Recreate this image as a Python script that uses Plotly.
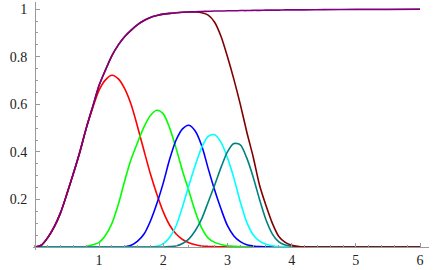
import plotly.graph_objects as go

# ---- data ----
x_grid = [0.0, 0.1, 0.2, 0.3, 0.4, 0.5, 0.6, 0.7, 0.8, 0.9,
          1.0, 1.1, 1.2, 1.3, 1.4, 1.5, 1.6, 1.7, 1.8, 1.9,
          2.0, 2.1, 2.2, 2.3, 2.4, 2.5, 2.6, 2.7, 2.8, 2.9,
          3.0, 3.1, 3.2, 3.3, 3.4, 3.5, 3.6, 3.7, 3.8, 3.9,
          4.0, 4.1, 4.2, 4.5, 5.0, 5.5, 6.0]

red = [0.0, 0.008, 0.04, 0.085, 0.145, 0.225, 0.31, 0.40, 0.50, 0.585,
       0.66, 0.703, 0.722, 0.707, 0.665, 0.598, 0.505, 0.405, 0.307, 0.222,
       0.148, 0.092, 0.055, 0.032, 0.018, 0.010, 0.005, 0.003, 0.002, 0.0015,
       0.001, 0.0, 0.0, 0.0, 0.0, 0.0, 0.0, 0.0, 0.0, 0.0,
       0.0, 0.0, 0.0, 0.0, 0.0, 0.0, 0.0]

green = [0.0, 0.0, 0.0, 0.0, 0.0, 0.0, 0.0, 0.0005, 0.003, 0.01,
         0.02, 0.05, 0.10, 0.18, 0.28, 0.37, 0.44, 0.505, 0.553, 0.575,
         0.56, 0.50, 0.415, 0.32, 0.235, 0.148, 0.08, 0.038, 0.02, 0.011,
         0.006, 0.004, 0.002, 0.001, 0.0, 0.0, 0.0, 0.0, 0.0, 0.0,
         0.0, 0.0, 0.0, 0.0, 0.0, 0.0, 0.0]

blue = [0.0, 0.0, 0.0, 0.0, 0.0, 0.0, 0.0, 0.0, 0.0, 0.0,
        0.0, 0.0, 0.0, 0.0, 0.002, 0.008, 0.025, 0.055, 0.11, 0.183,
        0.27, 0.37, 0.45, 0.497, 0.512, 0.487, 0.425, 0.33, 0.24, 0.16,
        0.09, 0.047, 0.023, 0.01, 0.005, 0.002, 0.001, 0.0, 0.0, 0.0,
        0.0, 0.0, 0.0, 0.0, 0.0, 0.0, 0.0]

cyan = [0.0, 0.0, 0.0, 0.0, 0.0, 0.0, 0.0, 0.0, 0.0, 0.0,
        0.0, 0.0, 0.0, 0.0, 0.0, 0.0, 0.0, 0.0, 0.001, 0.004,
        0.015, 0.042, 0.09, 0.17, 0.26, 0.345, 0.42, 0.465, 0.472, 0.44,
        0.375, 0.29, 0.19, 0.105, 0.052, 0.025, 0.012, 0.006, 0.003, 0.002,
        0.001, 0.0, 0.0, 0.0, 0.0, 0.0, 0.0]

teal = [0.0, 0.0, 0.0, 0.0, 0.0, 0.0, 0.0, 0.0, 0.0, 0.0,
        0.0, 0.0, 0.0, 0.0, 0.0, 0.0, 0.0, 0.0, 0.0, 0.0,
        0.0, 0.002, 0.005, 0.015, 0.035, 0.07, 0.12, 0.19, 0.26, 0.335,
        0.40, 0.435, 0.43, 0.375, 0.295, 0.20, 0.115, 0.055, 0.022, 0.009,
        0.004, 0.002, 0.001, 0.0, 0.0, 0.0, 0.0]

purple = [0.0, 0.008, 0.04, 0.085, 0.145, 0.225, 0.31, 0.40, 0.50, 0.59,
          0.68, 0.745, 0.805, 0.85, 0.885, 0.912, 0.935, 0.952, 0.965, 0.973,
          0.979, 0.982, 0.985, 0.987, 0.988, 0.989, 0.99, 0.991, 0.992, 0.992,
          0.993, 0.993, 0.994, 0.994, 0.995, 0.995, 0.996, 0.996, 0.996, 0.997,
          0.997, 0.997, 0.997, 0.998, 0.999, 0.999, 1.0]

maroon = [0.0, 0.008, 0.04, 0.085, 0.145, 0.225, 0.31, 0.40, 0.50, 0.59,
          0.68, 0.745, 0.805, 0.85, 0.885, 0.912, 0.935, 0.952, 0.965, 0.973,
          0.979, 0.982, 0.985, 0.987, 0.988, 0.988, 0.985, 0.975, 0.945, 0.885,
          0.80, 0.705, 0.60, 0.485, 0.38, 0.26, 0.175, 0.10, 0.045, 0.02,
          0.008, 0.003, 0.001, 0.0, 0.0, 0.0, 0.0]

x_ticks = [1, 2, 3, 4, 5, 6]
x_tick_labels = ["1", "2", "3", "4", "5", "6"]
y_ticks = [0.2, 0.4, 0.6, 0.8, 1.0]
y_tick_labels = ["0.2", "0.4", "0.6", "0.8", "1"]

series = [
    ("red", red, "#FF0000"),
    ("green", green, "#00FF00"),
    ("blue", blue, "#0000FF"),
    ("cyan", cyan, "#00FFFF"),
    ("teal", teal, "#008080"),
    ("maroon", maroon, "#800000"),
    ("purple", purple, "#800080"),
]

fig = go.Figure()
for name, ys, col in series:
    fig.add_trace(go.Scatter(
        x=x_grid, y=ys, mode="lines", name=name,
        line=dict(color=col, width=1.6, shape="spline", smoothing=0.8),
        hoverinfo="skip",
    ))

x_range = [-0.03, 6.14]
y_range = [-0.012, 1.03]
axis_col = "#9a9a9a"
font_col = "#222222"
tick_font = dict(family="'Liberation Serif', 'Times New Roman', serif", size=14, color=font_col)

fig.update_layout(
    template="none",
    width=437, height=270,
    margin=dict(l=33, r=8, t=2, b=20),
    paper_bgcolor="white", plot_bgcolor="white",
    showlegend=False,
    font=tick_font,
    xaxis=dict(
        range=x_range, anchor="free",
        position=(0 - y_range[0]) / (y_range[1] - y_range[0]),
        showgrid=False, zeroline=False, showline=True,
        linecolor=axis_col, linewidth=1,
        tickvals=x_ticks, ticktext=x_tick_labels, tickfont=tick_font,
        ticks="inside", ticklen=4, tickcolor=axis_col, tickwidth=1,
        ticklabelstandoff=0,
        minor=dict(dtick=0.2, tick0=0, ticks="inside", ticklen=2,
                   tickcolor=axis_col, showgrid=False),
    ),
    yaxis=dict(
        range=y_range, anchor="free",
        position=(0 - x_range[0]) / (x_range[1] - x_range[0]),
        showgrid=False, zeroline=False, showline=True,
        linecolor=axis_col, linewidth=1,
        tickvals=y_ticks, ticktext=y_tick_labels, tickfont=tick_font,
        ticks="inside", ticklen=4, tickcolor=axis_col, tickwidth=1,
        ticklabelstandoff=5,
        minor=dict(dtick=0.05, tick0=0, ticks="inside", ticklen=2,
                   tickcolor=axis_col, showgrid=False),
    ),
)

fig.write_html(
    "out.html",
    config={"displayModeBar": False},
    post_script="document.body.style.margin='0';document.body.style.overflow='hidden';",
)
